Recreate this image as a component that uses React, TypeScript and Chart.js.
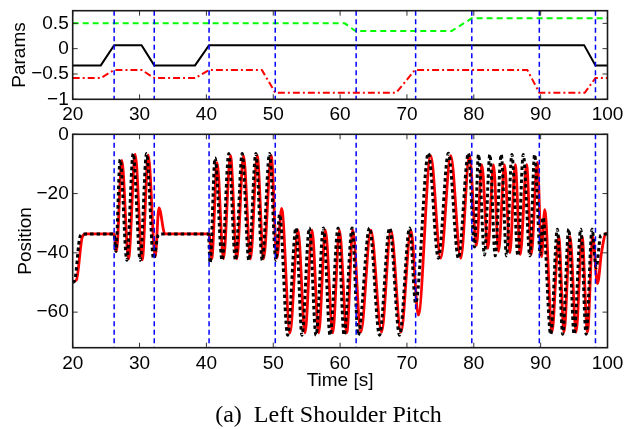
import React, { useEffect, useRef } from "react";
import { Chart, registerables } from "chart.js";

Chart.register(...registerables);

// ---------- data ----------
const timeTicks = [20, 30, 40, 50, 60, 70, 80, 90, 100];
const paramTicks = [-1, -0.5, 0, 0.5];
const positionTicks = [-60, -40, -20, 0];
const switchTimes = [26.2, 32.2, 40.4, 50.3, 62.4, 71.3, 79.7, 89.8, 98.2];

const greenParamTimes = [20, 60.7, 62.3, 76.7, 79.7, 100];
const greenParamValues = [0.5, 0.5, 0.35, 0.35, 0.6, 0.6];

const blackParamTimes = [20, 24.2, 26.2, 30.3, 32.2, 38.3, 40.4, 96.5, 98.2, 100];
const blackParamValues = [-0.33, -0.33, 0.07, 0.07, -0.33, -0.33, 0.07, 0.07, -0.33, -0.33];

const redParamTimes = [20, 24.2, 26.2, 30.3, 32.2, 38.3, 40.4, 48.3, 50.3, 68.4, 71.2, 88, 89.8, 96.6, 98.2, 100];
const redParamValues = [-0.58, -0.58, -0.42, -0.42, -0.58, -0.58, -0.42, -0.42, -0.87, -0.87, -0.42, -0.42, -0.87, -0.87, -0.58, -0.58];

// desired position (black dotted)
const desiredTimes = [
  20, 20.3, 21.1, 21.6, 26.2, 26.45, 27.1, 28.1, 29.05, 30.1, 31.05, 32.1, 32.8, 33.3,
  40.3, 40.55, 41.3, 42.35, 43.35, 44.35, 45.35, 46.35, 47.4, 48.35, 49.45, 50.4, 50.95,
  52.15, 53.4, 54.3, 55.4, 56.4, 57.5, 58.5, 59.7, 60.6, 61.8, 62.7, 64.4, 65.9, 67.4,
  68.9, 70.4, 71.3, 73.2, 74.7, 76.2, 77.7, 79.2, 80.1, 80.7, 81.6, 82.4, 83.2, 84.1,
  84.9, 85.7, 86.6, 87.4, 88.4, 89.1, 89.95, 90.35, 91.5, 92.5, 93.3, 94.2, 95.0, 96.0,
  96.8, 97.7, 98.3, 99.0, 100,
];
const desiredValues = [
  -50, -49.3, -34.5, -33.6, -33.6, -39.5, -8.5, -42.5, -6.5, -42.5, -6.5, -42, -34, -33.6,
  -33.6, -43.5, -8, -42.5, -6.5, -42.5, -6.5, -42.5, -6.5, -42.5, -6.5, -42.5, -27,
  -67.8, -31.6, -67.8, -31.6, -67.8, -31.6, -67.8, -31.6, -67.8, -31.6, -67.8, -31.6, -67.8, -31.6,
  -67.8, -31.6, -57, -6.4, -41.8, -6.4, -41.8, -6.4, -38, -6.8, -40.7, -6.8, -41, -6.8,
  -41, -6.8, -41, -6.8, -41, -6.8, -40.5, -28, -67.5, -32, -67.5, -32, -67.5, -32,
  -67.5, -32, -45, -34, -33.6,
];

// actual position (red solid)
const actualTimes = [
  20, 20.55, 21.45, 22.0, 26.2, 26.55, 27.35, 28.35, 29.35, 30.4, 31.3, 32.35, 32.9, 33.8,
  40.4, 40.8, 41.6, 42.55, 43.6, 44.55, 45.55, 46.6, 47.6, 48.55, 49.7, 50.55, 51.25,
  52.5, 53.7, 54.75, 55.8, 56.8, 57.8, 58.9, 59.9, 61.0, 61.9, 63.1, 64.6, 66.2, 67.6,
  69.1, 70.6, 71.7, 73.55, 75.05, 76.55, 78.05, 79.35, 80.4, 81.2, 82.1, 82.95, 83.7, 84.6,
  85.4, 86.2, 86.95, 87.9, 88.6, 89.5, 90.15, 90.6, 91.7, 92.7, 93.5, 94.4, 95.3, 96.2,
  97.0, 97.8, 98.5, 99.1, 99.7, 100,
];
const actualValues = [
  -49.7, -49.2, -34.5, -33.6, -33.6, -39.5, -8.8, -42, -6.8, -42.4, -7, -41.3, -24.8, -33.6,
  -33.6, -42, -9.6, -42, -7.2, -42, -7.2, -42, -7.2, -42, -7.2, -41.8, -25,
  -67, -32.3, -67, -32.3, -67, -32.3, -67, -32.3, -67, -32.3, -66.7, -32.3, -66.7, -32.3,
  -66.7, -32.3, -61, -7.2, -41.8, -7.2, -41.8, -7, -37.5, -10.2, -38.5, -10.2, -39.5, -10.2,
  -40, -10.2, -40.5, -10.2, -40.5, -9.5, -41.3, -25.4, -66.7, -34.5, -66.7, -34.5, -66.7, -34.5,
  -66.7, -34.5, -50.4, -40, -33.6, -33.4,
];

// ---------- helpers ----------
const zip = (xs: number[], ys: number[]) => xs.map((x, i) => ({ x, y: ys[i] }));
const fmt = (v: number | string) => String(v).replace("-", "\u2212");

const FONT = "'Liberation Sans', Arial, Helvetica, sans-serif";
const PLOT_LEFT = 72.7;
const PLOT_RIGHT = 607.5;
const W = 625;

const frameTicks = {
  id: "frameTicks",
  afterDraw(chart: any) {
    const { ctx, chartArea: a, scales } = chart;
    const xs = scales.x;
    const ys = scales.y;
    ctx.save();
    ctx.strokeStyle = "#333";
    ctx.lineWidth = 1;
    ctx.beginPath();
    xs.ticks.forEach((t: any) => {
      const px = xs.getPixelForValue(t.value);
      ctx.moveTo(px, a.bottom);
      ctx.lineTo(px, a.bottom - 5);
      ctx.moveTo(px, a.top);
      ctx.lineTo(px, a.top + 5);
    });
    ys.ticks.forEach((t: any) => {
      const py = ys.getPixelForValue(t.value);
      ctx.moveTo(a.left, py);
      ctx.lineTo(a.left + 5, py);
      ctx.moveTo(a.right, py);
      ctx.lineTo(a.right - 5, py);
    });
    ctx.stroke();
    ctx.strokeStyle = "#1a1a1a";
    ctx.lineWidth = 1.6;
    ctx.strokeRect(a.left, a.top, a.right - a.left, a.bottom - a.top);
    ctx.restore();
  },
};

const switchLines = {
  id: "switchLines",
  afterDatasetsDraw(chart: any) {
    const { ctx, chartArea: a, scales } = chart;
    ctx.save();
    ctx.strokeStyle = "#0000ff";
    ctx.lineWidth = 1.5;
    ctx.setLineDash([5, 3.5]);
    ctx.beginPath();
    switchTimes.forEach((t) => {
      const px = scales.x.getPixelForValue(t);
      ctx.moveTo(px, a.top);
      ctx.lineTo(px, a.bottom);
    });
    ctx.stroke();
    ctx.restore();
  },
};

function makeOptions(opts: {
  plotTop: number;
  xHeight: number;
  yMin: number;
  yMax: number;
  yTicks: number[];
  yTitle: string;
  yTitlePad: number;
  xTitle?: string;
}) {
  return {
    responsive: false,
    maintainAspectRatio: false,
    animation: false,
    devicePixelRatio: 1,
    layout: { padding: { left: 0, right: W - PLOT_RIGHT, top: opts.plotTop, bottom: 0 } },
    plugins: { legend: { display: false }, tooltip: { enabled: false } },
    elements: { point: { radius: 0 } },
    scales: {
      x: {
        type: "linear",
        min: 20,
        max: 100,
        grid: { display: false, drawTicks: false },
        border: { display: false },
        afterBuildTicks: (s: any) => {
          s.ticks = timeTicks.map((v) => ({ value: v }));
        },
        afterFit: (s: any) => {
          s.height = opts.xHeight;
          s.paddingLeft = 0;
          s.paddingRight = 0;
          s.paddingTop = 0;
          s.paddingBottom = 0;
        },
        ticks: {
          padding: 4.4,
          maxRotation: 0,
          autoSkip: false,
          color: "#000",
          font: { family: FONT, size: 19 },
          callback: (v: any) => fmt(v),
        },
        title: opts.xTitle
          ? {
              display: true,
              text: opts.xTitle,
              color: "#000",
              font: { family: FONT, size: 19 },
              padding: { top: 0, bottom: 7.6 },
            }
          : { display: false },
      },
      y: {
        type: "linear",
        min: opts.yMin,
        max: opts.yMax,
        grid: { display: false, drawTicks: false },
        border: { display: false },
        afterBuildTicks: (s: any) => {
          s.ticks = opts.yTicks.map((v) => ({ value: v }));
        },
        afterFit: (s: any) => {
          s.width = PLOT_LEFT;
          s.paddingLeft = 0;
          s.paddingRight = 0;
          s.paddingTop = 0;
          s.paddingBottom = 0;
        },
        ticks: {
          padding: 4,
          autoSkip: false,
          color: "#000",
          font: { family: FONT, size: 19 },
          callback: (v: any) => fmt(v),
        },
        title: {
          display: true,
          text: opts.yTitle,
          color: "#000",
          font: { family: FONT, size: 19 },
          padding: { top: opts.yTitlePad, bottom: 0 },
        },
      },
    },
  } as any;
}

const TOP_CANVAS_H = 130;
const BOT_CANVAS_TOP = 112;
const BOT_CANVAS_H = 288;

export default function App() {
  const topRef = useRef<HTMLCanvasElement | null>(null);
  const botRef = useRef<HTMLCanvasElement | null>(null);

  useEffect(() => {
    if (!topRef.current || !botRef.current) return;
    const top = new Chart(topRef.current, {
      type: "line",
      data: {
        datasets: [
          {
            data: zip(greenParamTimes, greenParamValues),
            borderColor: "#00ff00",
            borderWidth: 2,
            borderDash: [6, 4],
            tension: 0,
          },
          {
            data: zip(blackParamTimes, blackParamValues),
            borderColor: "#000000",
            borderWidth: 2,
            tension: 0,
          },
          {
            data: zip(redParamTimes, redParamValues),
            borderColor: "#ff0000",
            borderWidth: 2,
            borderDash: [7, 3, 2, 3],
            tension: 0,
          },
        ],
      },
      options: makeOptions({
        plotTop: 10.7,
        xHeight: TOP_CANVAS_H - 99.3,
        yMin: -1,
        yMax: 0.75,
        yTicks: paramTicks,
        yTitle: "Params",
        yTitlePad: 8,
      }),
      plugins: [switchLines, frameTicks],
    });

    const bot = new Chart(botRef.current, {
      type: "line",
      data: {
        datasets: [
          {
            data: zip(desiredTimes, desiredValues),
            borderColor: "#000000",
            borderWidth: 3,
            borderDash: [3.5, 3],
            cubicInterpolationMode: "monotone",
          },
          {
            data: zip(actualTimes, actualValues),
            borderColor: "#ff0000",
            borderWidth: 2.8,
            cubicInterpolationMode: "monotone",
          },
        ],
      },
      options: makeOptions({
        plotTop: 134.3 - BOT_CANVAS_TOP,
        xHeight: BOT_CANVAS_TOP + BOT_CANVAS_H - 347.7,
        yMin: -72,
        yMax: 0,
        yTicks: positionTicks,
        yTitle: "Position",
        yTitlePad: 14,
        xTitle: "Time [s]",
      }),
      plugins: [switchLines, frameTicks],
    });

    return () => {
      top.destroy();
      bot.destroy();
    };
  }, []);

  return (
    <div
      style={{
        position: "absolute",
        left: 0,
        top: 0,
        width: W,
        height: 429,
        background: "#fff",
        overflow: "hidden",
      }}
    >
      <canvas
        ref={topRef}
        width={W}
        height={TOP_CANVAS_H}
        style={{ position: "absolute", left: 0, top: 0, width: W, height: TOP_CANVAS_H }}
      />
      <canvas
        ref={botRef}
        width={W}
        height={BOT_CANVAS_H}
        style={{ position: "absolute", left: 0, top: BOT_CANVAS_TOP, width: W, height: BOT_CANVAS_H }}
      />
      <div
        style={{
          position: "absolute",
          left: 32,
          width: 593,
          top: 402.2,
          textAlign: "center",
          fontFamily: "'Liberation Serif', 'Times New Roman', serif",
          fontSize: 24,
          lineHeight: "24px",
          whiteSpace: "pre",
          color: "#000",
        }}
      >
        {"(a)  Left Shoulder Pitch"}
      </div>
    </div>
  );
}
